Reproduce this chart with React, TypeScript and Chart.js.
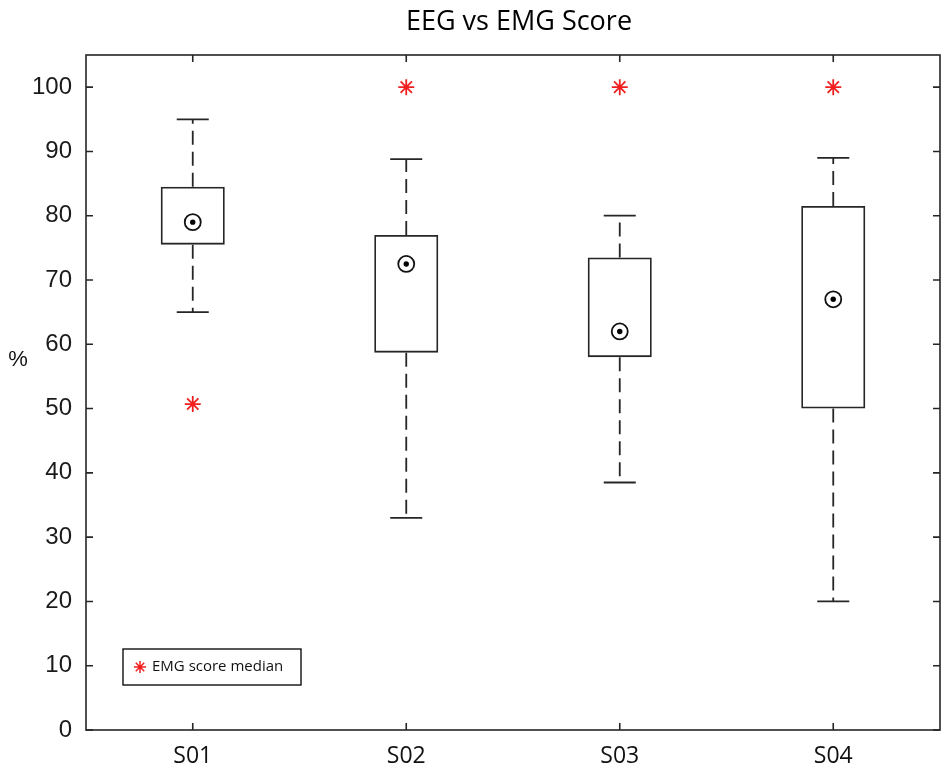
import React, { useEffect, useRef } from "react";
import { Chart, registerables } from "chart.js";

Chart.register(...registerables);

const categories = ["S01", "S02", "S03", "S04"];
const q1 = [75.5, 58.7, 58.0, 50.0];
const q3 = [84.5, 77.0, 73.5, 81.5];
const medians = [79.0, 72.5, 62.0, 67.0];
const whiskerLow = [65.0, 33.0, 38.5, 20.0];
const whiskerHigh = [95.0, 88.8, 80.0, 89.0];
const emgMedian = [50.7, 100, 100, 100];
const yTicks = [0, 10, 20, 30, 40, 50, 60, 70, 80, 90, 100];
const titleText = "EEG vs EMG Score";
const yLabel = "%";
const legendText = "EMG score median";

const LINE = "#262626";
const RED = "#f02020";

function drawStar(ctx: CanvasRenderingContext2D, x: number, y: number, r: number) {
  ctx.beginPath();
  for (let k = 0; k < 4; k++) {
    const a = (k * Math.PI) / 4;
    ctx.moveTo(x - Math.cos(a) * r, y - Math.sin(a) * r);
    ctx.lineTo(x + Math.cos(a) * r, y + Math.sin(a) * r);
  }
  ctx.stroke();
}

const boxPlugin = {
  id: "boxExtras",
  beforeDatasetsDraw(chart: any) {
    const { ctx, chartArea } = chart;
    const xs = chart.scales.x;
    const ys = chart.scales.y;
    const spacing = chartArea.width / categories.length;
    const capHalf = spacing * 0.075;
    ctx.save();
    ctx.strokeStyle = LINE;
    ctx.lineWidth = 1.8;
    categories.forEach((_, i) => {
      const x = xs.getPixelForValue(i);
      ctx.setLineDash([14, 7]);
      ctx.beginPath();
      ctx.moveTo(x, ys.getPixelForValue(q3[i]));
      ctx.lineTo(x, ys.getPixelForValue(whiskerHigh[i]));
      ctx.moveTo(x, ys.getPixelForValue(q1[i]));
      ctx.lineTo(x, ys.getPixelForValue(whiskerLow[i]));
      ctx.stroke();
      ctx.setLineDash([]);
      ctx.beginPath();
      const yh = ys.getPixelForValue(whiskerHigh[i]);
      const yl = ys.getPixelForValue(whiskerLow[i]);
      ctx.moveTo(x - capHalf, yh);
      ctx.lineTo(x + capHalf, yh);
      ctx.moveTo(x - capHalf, yl);
      ctx.lineTo(x + capHalf, yl);
      ctx.stroke();
    });
    ctx.restore();
  },
  afterDraw(chart: any) {
    const { ctx, chartArea } = chart;
    const xs = chart.scales.x;
    const ys = chart.scales.y;
    const { left, right, top, bottom } = chartArea;
    const tl = 7;
    ctx.save();
    ctx.strokeStyle = LINE;
    ctx.lineWidth = 1.6;
    ctx.setLineDash([]);
    ctx.strokeRect(left, top, right - left, bottom - top);
    ctx.beginPath();
    yTicks.forEach((v) => {
      const y = ys.getPixelForValue(v);
      ctx.moveTo(left, y);
      ctx.lineTo(left + tl, y);
      ctx.moveTo(right, y);
      ctx.lineTo(right - tl, y);
    });
    categories.forEach((_, i) => {
      const x = xs.getPixelForValue(i);
      ctx.moveTo(x, bottom);
      ctx.lineTo(x, bottom - tl);
      ctx.moveTo(x, top);
      ctx.lineTo(x, top + tl);
    });
    ctx.stroke();

    // title, centred over the plot area
    ctx.fillStyle = "#000";
    ctx.font = "27px 'Open Sans'";
    ctx.textAlign = "center";
    ctx.textBaseline = "alphabetic";
    ctx.fillText(titleText, (left + right) / 2 + 6, 30);

    // y axis label (not rotated)
    ctx.fillStyle = "#111";
    ctx.font = "22px 'Liberation Sans'";
    ctx.textAlign = "center";
    ctx.textBaseline = "middle";
    ctx.fillText(yLabel, 18, ys.getPixelForValue(57.5));

    // legend
    const lx = 123, ly = 649, lw = 178, lh = 36;
    ctx.fillStyle = "#fff";
    ctx.fillRect(lx, ly, lw, lh);
    ctx.strokeStyle = "#111";
    ctx.lineWidth = 1.4;
    ctx.strokeRect(lx, ly, lw, lh);
    ctx.strokeStyle = RED;
    ctx.lineWidth = 1.5;
    drawStar(ctx, lx + 17, ly + 18, 6);
    ctx.fillStyle = "#111";
    ctx.font = "15px 'Open Sans'";
    ctx.textAlign = "left";
    ctx.textBaseline = "middle";
    ctx.fillText(legendText, lx + 29, ly + 18);
    ctx.restore();
  },
};

export default function App() {
  const ref = useRef<HTMLCanvasElement | null>(null);
  useEffect(() => {
    if (!ref.current) return;
    const chart = new Chart(ref.current, {
      type: "bar",
      data: {
        labels: categories,
        datasets: [
          {
            type: "bar",
            label: "box",
            data: categories.map((_, i) => [q1[i], q3[i]]) as any,
            backgroundColor: "rgba(0,0,0,0)",
            borderColor: LINE,
            borderWidth: 1.8,
            borderSkipped: false,
            barPercentage: 0.3,
            categoryPercentage: 1,
            order: 3,
          } as any,
          {
            type: "line",
            label: "median ring",
            data: medians,
            showLine: false,
            pointStyle: "circle",
            pointRadius: 8,
            pointBackgroundColor: "rgba(255,255,255,0)",
            pointBorderColor: "#111",
            pointBorderWidth: 1.8,
            order: 2,
          } as any,
          {
            type: "line",
            label: "median dot",
            data: medians,
            showLine: false,
            pointStyle: "circle",
            pointRadius: 2.7,
            pointBackgroundColor: "#000",
            pointBorderColor: "#000",
            pointBorderWidth: 0,
            order: 1,
          } as any,
          {
            type: "line",
            label: legendText,
            data: emgMedian,
            showLine: false,
            pointStyle: "star",
            pointRadius: 8,
            pointBackgroundColor: RED,
            pointBorderColor: RED,
            pointBorderWidth: 1.8,
            order: 0,
          } as any,
        ],
      },
      options: {
        animation: false,
        responsive: true,
        maintainAspectRatio: false,
        layout: { padding: { left: 0, right: 10, top: 55, bottom: 0 } },
        plugins: {
          legend: { display: false },
          tooltip: { enabled: false },
          title: { display: false },
        },
        scales: {
          x: {
            type: "category",
            offset: true,
            grid: { display: false, drawTicks: false },
            border: { display: false },
            ticks: {
              color: "#111",
              font: { family: "'Open Sans'", size: 23 },
              padding: 13,
              maxRotation: 0,
            },
            afterFit(scale: any) {
              scale.height = 41;
            },
          },
          y: {
            type: "linear",
            min: 0,
            max: 105,
            grid: { display: false, drawTicks: false },
            border: { display: false },
            ticks: {
              color: "#1a1a1a",
              font: { family: "'Liberation Sans'", size: 24 },
              padding: 14,
            },
            afterBuildTicks(scale: any) {
              scale.ticks = yTicks.map((v) => ({ value: v }));
            },
            afterFit(scale: any) {
              scale.width = 86;
            },
          },
        },
      },
      plugins: [boxPlugin],
    });
    return () => chart.destroy();
  }, []);
  return (
    <div style={{ position: "absolute", left: 0, top: 0, width: 950, height: 771, background: "#fff" }}>
      <canvas ref={ref} />
    </div>
  );
}
